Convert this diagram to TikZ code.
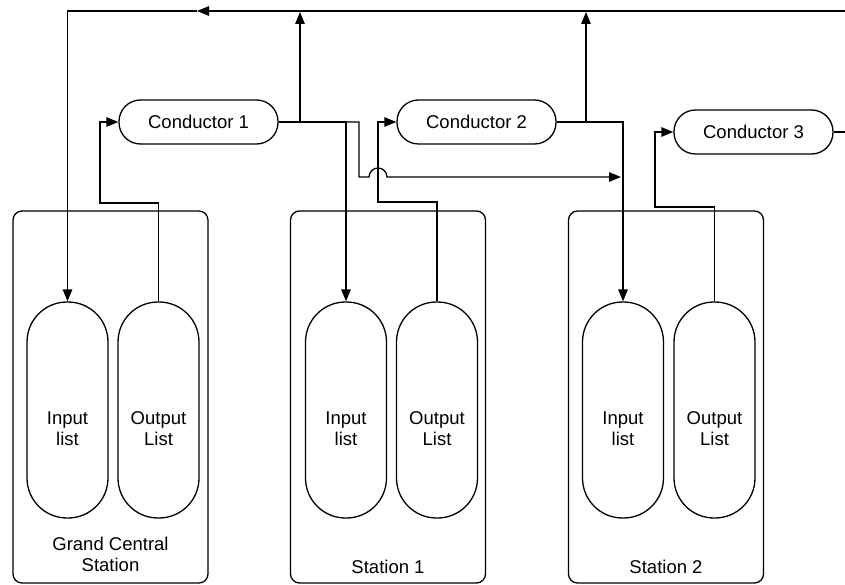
\documentclass[tikz,border=0pt]{standalone}
\usepackage{fontspec}
\setmainfont{Liberation Sans}
\usetikzlibrary{arrows.meta}
\begin{document}
\begin{tikzpicture}[x=1pt,y=-1pt, line width=1.3pt,
  arr/.style={-{Triangle[length=12pt,width=9.5pt]}},
  cond/.style={draw, rounded corners=21.5pt, minimum width=159pt, minimum height=44pt, inner sep=0pt, font=\fontsize{18.5}{21}\selectfont},
  capsule/.style={draw, rounded corners=40pt, minimum width=81pt, minimum height=216pt, inner sep=0pt},
  stn/.style={draw, rounded corners=9pt, minimum width=195pt, minimum height=372pt, inner sep=0pt},
  lbl/.style={align=center, font=\fontsize{18.5}{21}\selectfont, inner sep=0pt}]
\useasboundingbox (0,0) rectangle (845,585);
\clip (0,0) rectangle (845,585);

% stations
\node[stn] (gcs) at (110.5,397) {};
\node[stn] (s1) at (388,397) {};
\node[stn] (s2) at (666,397) {};
\node[lbl] (gcsl) at (110.5,554) {Grand Central\\Station};
\node[lbl] (s1l) at (388,567) {Station 1};
\node[lbl] (s2l) at (666,567) {Station 2};

% lists
\node[capsule] (gcsin) at (67.5,410) {};
\node[capsule] (gcsout) at (158.5,410) {};
\node[capsule] (s1in) at (346,410) {};
\node[capsule] (s1out) at (437,410) {};
\node[capsule] (s2in) at (623,410) {};
\node[capsule] (s2out) at (714.5,410) {};
\node[lbl] (gcsinl) at (67.5,429) {Input\\list};
\node[lbl] (gcsoutl) at (158.5,429) {Output\\List};
\node[lbl] (s1inl) at (346,429) {Input\\list};
\node[lbl] (s1outl) at (437,429) {Output\\List};
\node[lbl] (s2inl) at (623,429) {Input\\list};
\node[lbl] (s2outl) at (714.5,429) {Output\\List};

% conductors
\node[cond] (c1) at (198.5,122) {Conductor 1};
\node[cond] (c2) at (476.5,122) {Conductor 2};
\node[cond] (c3) at (753.5,132) {Conductor 3};

% free ends
\coordinate (tr) at (850,11);
\coordinate (tm) at (197,11);
\coordinate (t1) at (300,12);
\coordinate (t2) at (586,12);
\coordinate (h2) at (621,177);

% top return line
\draw[arr] (c3.east) -| (tr) -- (tm);
\draw[arr] (tm) -| (gcsin.north);

% conductor 1
\draw[arr] (c1.east) -| (t1);
\draw[arr] (c1.east) -| (s1in.north);
\draw[arr] (c1.east) -| (359,177) -- (369,177) arc[start angle=180,end angle=0,radius=9pt] -- (h2);

% conductor 2
\draw[arr] (c2.east) -| (t2);
\draw[arr] (c2.east) -| (s2in.north);

% outputs to conductors
\draw[arr] (gcsout.north) |- (100,203) |- (c1.west);
\draw[arr] (s1out.north) |- (378,202) |- (c2.west);
\draw[arr] (s2out.north) |- (655,207) |- (c3.west);
\end{tikzpicture}
\end{document}
